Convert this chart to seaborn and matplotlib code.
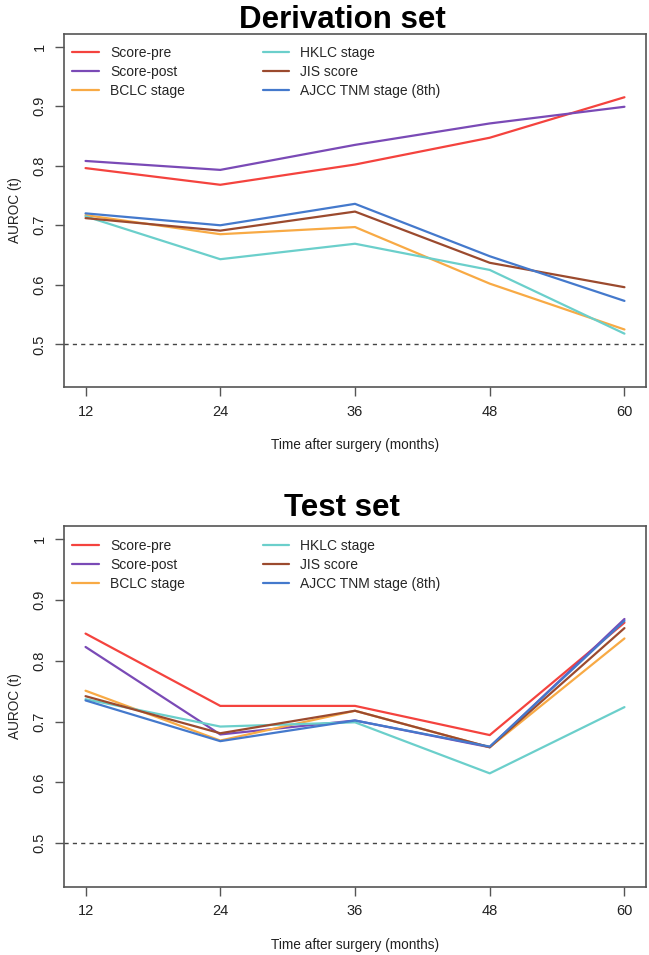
import pandas as pd
import numpy as np
import seaborn as sns
import matplotlib.pyplot as plt

sns.set_style('white')
plt.rcParams['font.family'] = ['Liberation Sans', 'DejaVu Sans']

months = [12, 24, 36, 48, 60]
methods = ['Score-pre', 'Score-post', 'BCLC stage', 'HKLC stage', 'JIS score', 'AJCC TNM stage (8th)']
colors = ['#F4433E', '#7A4AB6', '#F8AA45', '#6BCFCB', '#9B4A2E', '#4479CC']

# derivation set, AUROC(t)
deriv_score_pre = [0.796, 0.768, 0.802, 0.847, 0.915]
deriv_score_post = [0.808, 0.793, 0.835, 0.871, 0.899]
deriv_bclc = [0.717, 0.685, 0.697, 0.602, 0.525]
deriv_hklc = [0.715, 0.643, 0.669, 0.625, 0.518]
deriv_jis = [0.712, 0.691, 0.723, 0.637, 0.596]
deriv_ajcc = [0.720, 0.700, 0.736, 0.648, 0.573]

# test set
test_score_pre = [0.845, 0.726, 0.726, 0.678, 0.863]
test_score_post = [0.823, 0.679, 0.702, 0.658, 0.869]
test_bclc = [0.751, 0.669, 0.718, 0.658, 0.837]
test_hklc = [0.737, 0.692, 0.699, 0.615, 0.724]
test_jis = [0.742, 0.681, 0.718, 0.658, 0.854]
test_ajcc = [0.735, 0.668, 0.702, 0.659, 0.866]

ytick_vals = [0.5, 0.6, 0.7, 0.8, 0.9, 1.0]
ytick_labels = ['0.5', '0.6', '0.7', '0.8', '0.9', '1']


def long_df(series):
    frames = []
    for name, vals in zip(methods, series):
        frames.append(pd.DataFrame({'month': months, 'auroc': vals, 'method': name}))
    return pd.concat(frames, ignore_index=True)


deriv = long_df([deriv_score_pre, deriv_score_post, deriv_bclc, deriv_hklc, deriv_jis, deriv_ajcc])
test = long_df([test_score_pre, test_score_post, test_bclc, test_hklc, test_jis, test_ajcc])

fig = plt.figure(figsize=(6.49, 9.55), dpi=100)
ax1 = fig.add_axes([0.0986, 0.5945, 0.8968, 0.3704])
ax2 = fig.add_axes([0.0986, 0.0712, 0.8968, 0.3780])


def draw(ax, df, title, tpad):
    sns.lineplot(data=df, x='month', y='auroc', hue='method', hue_order=methods,
                 palette=colors, linewidth=1.6, ax=ax)
    ax.axhline(0.5, color='#444444', lw=1.0, ls=(0, (3, 3)))
    ax.set_xlim(10.08, 61.92)
    ax.set_ylim(0.428, 1.022)
    ax.set_xticks(months)
    ax.set_xticklabels([str(m) for m in months], fontsize=10.5, color='#222222')
    ax.set_yticks(ytick_vals)
    ax.set_yticklabels(ytick_labels, rotation=90, va='center', fontsize=10.5, color='#222222')
    ax.tick_params(axis='both', direction='out', length=6.5, width=1.0, color='#555555', pad=6,
                   bottom=True, left=True)
    ax.set_xlabel('Time after surgery (months)', fontsize=9.8, labelpad=14, color='#222222')
    ax.set_ylabel('AUROC (t)', fontsize=9.8, labelpad=8, color='#222222')
    ax.set_title(title, fontsize=22.5, fontweight='bold', pad=tpad, color='black', x=0.478)
    for s in ax.spines.values():
        s.set_color('#555555')
        s.set_linewidth(1.2)
    handles, labels = ax.get_legend_handles_labels()
    ax.legend(handles, labels, ncol=2, loc='upper left', bbox_to_anchor=(0.005, 0.98),
              frameon=False, fontsize=10, handlelength=1.9, handletextpad=0.8,
              columnspacing=5.6, labelspacing=0.36, borderaxespad=0)


draw(ax1, deriv, 'Derivation set', 4)
draw(ax2, test, 'Test set', 7.5)

fig.savefig('out.png', dpi=100)
